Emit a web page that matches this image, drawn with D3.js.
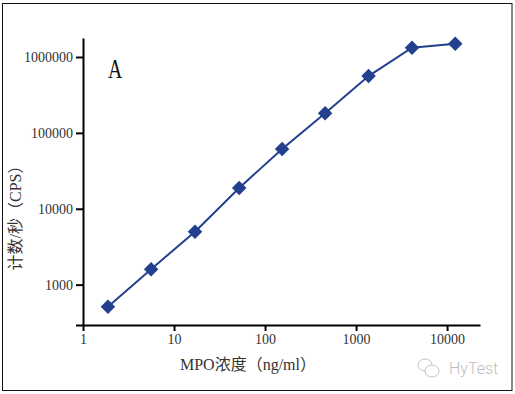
<!DOCTYPE html>
<html>
<head>
<meta charset="utf-8">
<script src="https://cdn.jsdelivr.net/npm/d3@7"></script>
<style>
    html, body { margin: 0; padding: 0; background: #fff; }
    svg { display: block; }
    text { font-family: "Liberation Serif", "Noto Sans CJK SC", serif; }
</style>
</head>
<body>
<div id="chart"></div>
<script>
// Values
const concentration = [1.88, 5.6, 17, 52, 154, 457, 1372, 4115, 12300];
const counts = [513, 1600, 4990, 18800, 61400, 182000, 560000, 1325000, 1500000];
const xTicks = [1, 10, 100, 1000, 10000];
const yTicks = [1000, 10000, 100000, 1000000];
const xTitle = "MPO浓度（ng/ml）";
const yTitle = "计数/秒（CPS）";
const panelLabel = "A";
const watermark = "HyTest";

const width = 515;
const height = 394;
const lineColor = "#23408e";
const axisColor = "#000";
const textColor = "#333";

const svg = d3.select("#chart")
    .append("svg")
    .attr("width", width)
    .attr("height", height);

// Outer frame
svg.append("rect")
    .attr("x", 2.5)
    .attr("y", 3.5)
    .attr("width", 509.5)
    .attr("height", 387)
    .attr("fill", "#fff")
    .attr("stroke", "#111")
    .attr("stroke-width", 1);

// Log scales, both axes run past the last decade
const yMin = 294;
const x = d3.scaleLog().domain([1, 23000]).range([83, 480]);
const y = d3.scaleLog().domain([yMin, 1780000]).range([325, 38]);

// x-axis
const xAxis = svg.append("g")
    .attr("transform", `translate(0, ${y(yMin)})`)
    .call(d3.axisBottom(x).tickValues(xTicks).tickFormat(d => d).tickSize(6).tickSizeOuter(0).tickPadding(3));

// y-axis, the extra tick at the bottom has no label
const yAxis = svg.append("g")
    .attr("transform", `translate(${x(1)}, 0)`)
    .call(d3.axisLeft(y).tickValues([yMin, ...yTicks]).tickFormat(d => d === yMin ? "" : d).tickSize(7).tickSizeOuter(0).tickPadding(3));

[xAxis, yAxis].forEach(axis => {
    axis.selectAll("path, line")
        .attr("stroke", axisColor)
        .attr("stroke-width", 2);
    axis.selectAll("text")
        .attr("fill", textColor)
        .style("font-family", '"Liberation Serif", serif')
        .style("font-size", "14px");
});

// Line
const lineGenerator = d3.line()
    .x((d, i) => x(concentration[i]))
    .y(d => y(d));

svg.append("path")
    .datum(counts)
    .attr("fill", "none")
    .attr("stroke", lineColor)
    .attr("stroke-width", 2)
    .attr("d", lineGenerator);

// Diamond markers
svg.selectAll(".marker")
    .data(counts)
    .join("path")
    .attr("class", "marker")
    .attr("d", d3.symbol(d3.symbolSquare, 105))
    .attr("transform", (d, i) => `translate(${x(concentration[i])}, ${y(d)}) rotate(45)`)
    .attr("fill", lineColor);

// Axis titles
svg.append("text")
    .attr("x", 243)
    .attr("y", 370)
    .attr("dx", 5)
    .attr("text-anchor", "middle")
    .attr("fill", textColor)
    .style("font-size", "16px")
    .text(xTitle);

svg.append("text")
    .attr("transform", "translate(21, 214) rotate(-90)")
    .attr("text-anchor", "middle")
    .attr("fill", textColor)
    .style("font-size", "16px")
    .text(yTitle);

// Panel label, narrower and taller than the plain font
svg.append("text")
    .attr("transform", "translate(108, 78) scale(0.86, 1.16)")
    .attr("fill", "#111")
    .style("font-size", "23px")
    .text(panelLabel);

// Watermark
const mark = svg.append("g")
    .attr("fill", "none")
    .attr("stroke", "#c4c4c4")
    .attr("stroke-width", 1);

mark.append("ellipse").attr("cx", 425).attr("cy", 365).attr("rx", 7).attr("ry", 6);
mark.append("ellipse").attr("cx", 432).attr("cy", 371).attr("rx", 7).attr("ry", 6).attr("fill", "#fff");

svg.append("text")
    .attr("x", 449)
    .attr("y", 374)
    .attr("fill", "#bdbdbd")
    .style("font-family", "Roboto, sans-serif")
    .style("font-weight", 300)
    .style("font-size", "16px")
    .text(watermark);
</script>
</body>
</html>
